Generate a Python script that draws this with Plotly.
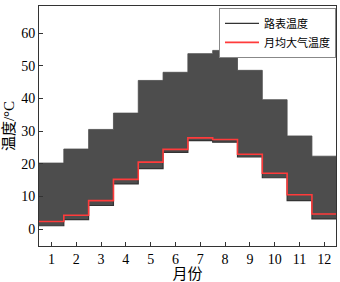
import plotly.graph_objects as go

months = [1, 2, 3, 4, 5, 6, 7, 8, 9, 10, 11, 12]
month_labels = ["1", "2", "3", "4", "5", "6", "7", "8", "9", "10", "11", "12"]
road_max = [20.2, 24.5, 30.5, 35.5, 45.5, 48.0, 53.7, 54.7, 48.6, 39.6, 28.5, 22.3]
road_min = [1.0, 2.9, 7.2, 13.8, 18.5, 23.5, 27.1, 26.6, 22.1, 15.7, 8.7, 3.1]
air_avg = [2.3, 4.2, 8.7, 15.2, 20.5, 24.4, 27.9, 27.4, 22.9, 17.1, 10.5, 4.6]


def step_xy(vals):
    xs = [m - 0.5 for m in months] + [months[-1] + 0.5]
    ys = list(vals) + [vals[-1]]
    return xs, ys


fig = go.Figure()
x_lo, y_lo = step_xy(road_min)
x_hi, y_hi = step_xy(road_max)
x_air, y_air = step_xy(air_avg)

fig.add_trace(go.Scatter(x=x_lo, y=y_lo, mode="lines", line_shape="hv",
                         line=dict(color="#333333", width=1.2),
                         name="路表温度", showlegend=True))
fig.add_trace(go.Scatter(x=x_hi, y=y_hi, mode="lines", line_shape="hv",
                         line=dict(color="#4d4d4d", width=0.8),
                         fill="tonexty", fillcolor="#4d4d4d",
                         name="路表温度上限", showlegend=False))
fig.add_trace(go.Scatter(x=x_air, y=y_air, mode="lines", line_shape="hv",
                         line=dict(color="#ff3b3b", width=1.6),
                         name="月均大气温度"))

font_family = "Liberation Serif, Noto Sans CJK SC, serif"
fig.update_layout(
    width=340, height=282,
    margin=dict(l=39, r=4, t=6, b=36),
    paper_bgcolor="white", plot_bgcolor="white",
    font=dict(family=font_family, size=13, color="black"),
    showlegend=True,
    legend=dict(x=1, y=0.992, xanchor="right", yanchor="top",
                traceorder="normal",
                bgcolor="white", bordercolor="#888888", borderwidth=1,
                font=dict(size=11, family=font_family),
                tracegroupgap=0, itemwidth=34),
    xaxis=dict(range=[0.5, 12.47], tickmode="array", tickvals=months,
               ticktext=month_labels, ticks="inside", ticklen=4,
               tickcolor="#333", showline=True, mirror=True,
               linecolor="#333", linewidth=1, showgrid=False, zeroline=False,
               automargin=False,
               title=dict(text="月份", standoff=0, font=dict(size=15)),
               tickfont=dict(size=14)),
    yaxis=dict(range=[-5.2, 68.3], tickmode="linear", tick0=0, dtick=10,
               ticks="inside", ticklen=4, tickcolor="#333",
               showline=True, mirror=True, linecolor="#333", linewidth=1,
               showgrid=False, zeroline=False, automargin=False,
               title=dict(text="温度/°C", standoff=2, font=dict(size=15)),
               tickfont=dict(size=14)),
)

fig.write_html("out.html", config={"displayModeBar": False},
               post_script="document.body.style.margin='0';document.body.style.overflow='hidden';")
